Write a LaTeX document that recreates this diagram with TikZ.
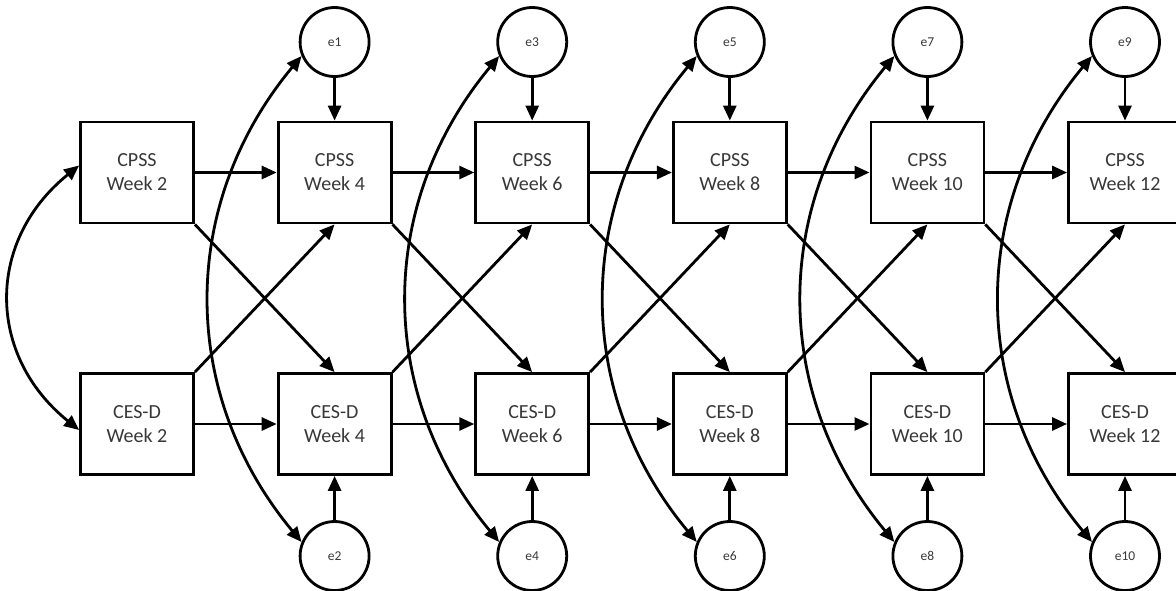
\documentclass[tikz,border=0pt]{standalone}
\usepackage{fontspec}
\setmainfont{Carlito}
\usetikzlibrary{arrows.meta}
\begin{document}
\begin{tikzpicture}[x=1pt,y=-1pt, line width=2.8pt,
  box/.style={draw, minimum width=113pt, minimum height=101pt, align=center, inner sep=0pt,
    font=\fontsize{20}{24}\selectfont, text=black!78},
  err/.style={draw, circle, minimum size=69pt, inner sep=0pt,
    font=\fontsize{13.5}{15}\selectfont, text=black!78},
  arr/.style={-{Triangle[length=15pt,width=13pt]}},
  darr/.style={{Triangle[length=15pt,width=13pt]}-{Triangle[length=15pt,width=13pt]}}]
\useasboundingbox (0,0) rectangle (1176,590);
% boxes
\node[box] (c0) at (137,172.5) {CPSS\\Week 2};
\node[box] (c1) at (334.6,172.5) {CPSS\\Week 4};
\node[box] (c2) at (532.2,172.5) {CPSS\\Week 6};
\node[box] (c3) at (729.8,172.5) {CPSS\\Week 8};
\node[box] (c4) at (927.4,172.5) {CPSS\\Week 10};
\node[box] (c5) at (1125,172.5) {CPSS\\Week 12};
\node[box] (d0) at (137,424) {CES-D\\Week 2};
\node[box] (d1) at (334.6,424) {CES-D\\Week 4};
\node[box] (d2) at (532.2,424) {CES-D\\Week 6};
\node[box] (d3) at (729.8,424) {CES-D\\Week 8};
\node[box] (d4) at (927.4,424) {CES-D\\Week 10};
\node[box] (d5) at (1125,424) {CES-D\\Week 12};
% error terms
\node[err] (t1) at (334.6,42) {e1};
\node[err] (t2) at (532.2,42) {e3};
\node[err] (t3) at (729.8,42) {e5};
\node[err] (t4) at (927.4,42) {e7};
\node[err] (t5) at (1125,42) {e9};
\node[err] (b1) at (334.6,556) {e2};
\node[err] (b2) at (532.2,556) {e4};
\node[err] (b3) at (729.8,556) {e6};
\node[err] (b4) at (927.4,556) {e8};
\node[err] (b5) at (1125,556) {e10};
% paths
\foreach \a/\b in {0/1,1/2,2/3,3/4,4/5} {
  \draw[arr] (c\a.east) -- (c\b.west);
  \draw[arr] (d\a.east) -- (d\b.west);
  \draw[arr] (c\a.south east) -- (d\b.north);
  \draw[arr] (d\a.north east) -- (c\b.south);
  \draw[arr] (t\b.south) -- (c\b.north);
  \draw[arr] (b\b.north) -- (d\b.south);
  \draw[darr] (t\b.203) .. controls +(-123,148) and +(-123,-148) .. (b\b.157);
}
\draw[darr] ([yshift=7pt]c0.west) .. controls +(-93,75) and +(-93,-75) .. ([yshift=-6pt]d0.west);
\end{tikzpicture}
\end{document}
